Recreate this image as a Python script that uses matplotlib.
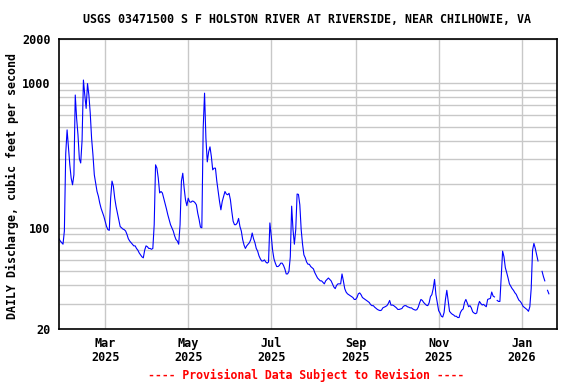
import numpy as np
import pandas as pd
import matplotlib
matplotlib.use('Agg')
import matplotlib.pyplot as plt
import matplotlib.dates as mdates
from matplotlib.ticker import FixedLocator, NullFormatter

# daily mean discharge, cfs, starting 2025-01-26 (nan = missing day)
start_date = '2025-01-26'
discharge = [
    84, 81, 79, 77, 95, 326, 474, 356, 272, 220,
    198, 232, 825, 570, 438, 300, 280, 400, 1047, 825,
    667, 990, 825, 620, 415, 319, 232, 204, 178, 165,
    148, 136, 128, 120, 111, 102, 97, 96, 160, 210,
    194, 160, 140, 126, 114, 102, 100, 98, 97, 95,
    90, 84, 81, 79, 77, 75, 75, 72, 70, 67,
    65, 63, 62, 70, 75, 74, 72, 72, 71, 72,
    105, 272, 258, 220, 174, 178, 174, 160, 148, 135,
    123, 114, 105, 100, 95, 88, 83, 81, 77, 105,
    210, 238, 188, 156, 142, 160, 151, 150, 153, 152,
    149, 144, 126, 114, 101, 100, 488, 850, 415, 285,
    334, 362, 310, 251, 258, 258, 210, 178, 152, 133,
    152, 165, 178, 171, 169, 173, 156, 130, 111, 105,
    105, 108, 116, 102, 95, 83, 76, 72, 75, 77,
    79, 83, 92, 84, 79, 72, 69, 64, 61, 59,
    59, 60, 58, 57, 58, 108, 88, 70, 61, 57,
    54, 54, 55, 57, 57, 55, 52, 48, 48, 50,
    63, 141, 97, 77, 97, 171, 170, 144, 97, 77,
    65, 62, 58, 56, 56, 54, 53, 52, 49, 47,
    45, 44, 43, 43, 42, 41, 43, 44, 45, 44,
    43, 41, 39, 38, 40, 41, 41, 41, 48, 43,
    38, 36, 35, 34.5, 34, 33.5, 33, 32, 32, 33,
    35, 35.5, 34.5, 33, 32.5, 32, 31.5, 31, 30.5, 29.5,
    29, 29, 28.3, 27.8, 27.3, 27, 26.8, 27, 28, 28.3,
    28.6, 29, 30, 31.5, 29.2, 29.3, 29, 28.5, 28, 27.3,
    27.3, 27.5, 27.7, 28.6, 29, 29, 28.5, 28.3, 28, 28,
    27.5, 27.2, 27, 27.2, 28.3, 30.3, 32, 31.5, 30.5, 29.8,
    29.2, 29, 30.3, 33.5, 34.5, 38, 44, 34.5, 30.3, 26.8,
    25.8, 24.5, 24.2, 26, 32, 37, 31.5, 26.5, 25.8, 25.3,
    25, 24.5, 24.5, 24, 24, 26, 27, 27.5, 30.5, 32,
    30.3, 28.5, 29, 28, 26.3, 25.8, 25.5, 25.8, 29, 31,
    30, 29.3, 29.6, 29, 28.5, 32, 32.3, 32.5, 36, 33.8,
    33.3, np.nan, 31.5, 31, 31, 46, 69, 63, 53, 49,
    45, 41, 39.5, 38, 37, 35.6, 34.7, 33, 31.6, 31,
    30, 28.7, 28.2, 27.7, 27.2, 26.5, 28.5, 38, 70, 78,
    72, 65, 59, np.nan, np.nan, 50, 46, 43, np.nan, 37,
    35,
]
dates = pd.date_range(start_date, periods=len(discharge), freq='D')

y_major = [20, 100, 1000, 2000]
y_minor = [30, 40, 50, 60, 70, 80, 90, 200, 300, 400, 500, 600, 700, 800, 900]
x_ticks = ['2025-03-01', '2025-05-01', '2025-07-01', '2025-09-01', '2025-11-01', '2026-01-01']

title = 'USGS 03471500 S F HOLSTON RIVER AT RIVERSIDE, NEAR CHILHOWIE, VA'
ylabel = 'DAILY Discharge, cubic feet per second'
note = '---- Provisional Data Subject to Revision ----'

font = 'DejaVu Sans Mono'
grid_col = '#c8c8c8'

fig = plt.figure(figsize=(5.76, 3.84), dpi=100)
ax = fig.add_axes([0.1023, 0.1432, 0.8648, 0.7544])

ax.plot(dates, discharge, color='#0000ff', lw=0.8)

ax.set_yscale('log')
ax.set_ylim(20, 2000)
ax.set_xlim(pd.Timestamp('2025-01-26'), pd.Timestamp('2026-01-27'))

ax.yaxis.set_major_locator(FixedLocator(y_major))
ax.set_yticklabels([str(v) for v in y_major])
ax.yaxis.set_minor_locator(FixedLocator(y_minor))
ax.yaxis.set_minor_formatter(NullFormatter())

xt = pd.to_datetime(x_ticks)
ax.set_xticks(xt)
ax.set_xticklabels([d.strftime('%b') + '\n' + d.strftime('%Y') for d in xt])

ax.grid(True, which='both', axis='y', color=grid_col, lw=1.0)
ax.grid(True, which='major', axis='x', color=grid_col, lw=1.0)
ax.set_axisbelow(True)

ax.tick_params(which='both', length=0)
ax.tick_params(axis='y', pad=6)
ax.tick_params(axis='x', pad=6)
for lab in ax.get_xticklabels() + ax.get_yticklabels():
    lab.set_fontfamily(font)
    lab.set_fontweight('bold')
    lab.set_fontsize(8.5)
for lab in ax.get_xticklabels():
    lab.set_linespacing(1.05)

for s in ax.spines.values():
    s.set_linewidth(1.2)
    s.set_color('black')

fig.text(0.533, 0.95, title, ha='center', va='center', fontsize=8.4,
         fontfamily=font, fontweight='bold')
fig.text(0.022, 0.515, ylabel, ha='center', va='center', rotation=90,
         fontsize=8.4, fontfamily=font, fontweight='bold')
fig.text(0.531, 0.023, note, ha='center', va='center', fontsize=8.3,
         fontfamily=font, fontweight='bold', color='red')

fig.savefig('out.png', dpi=100)
